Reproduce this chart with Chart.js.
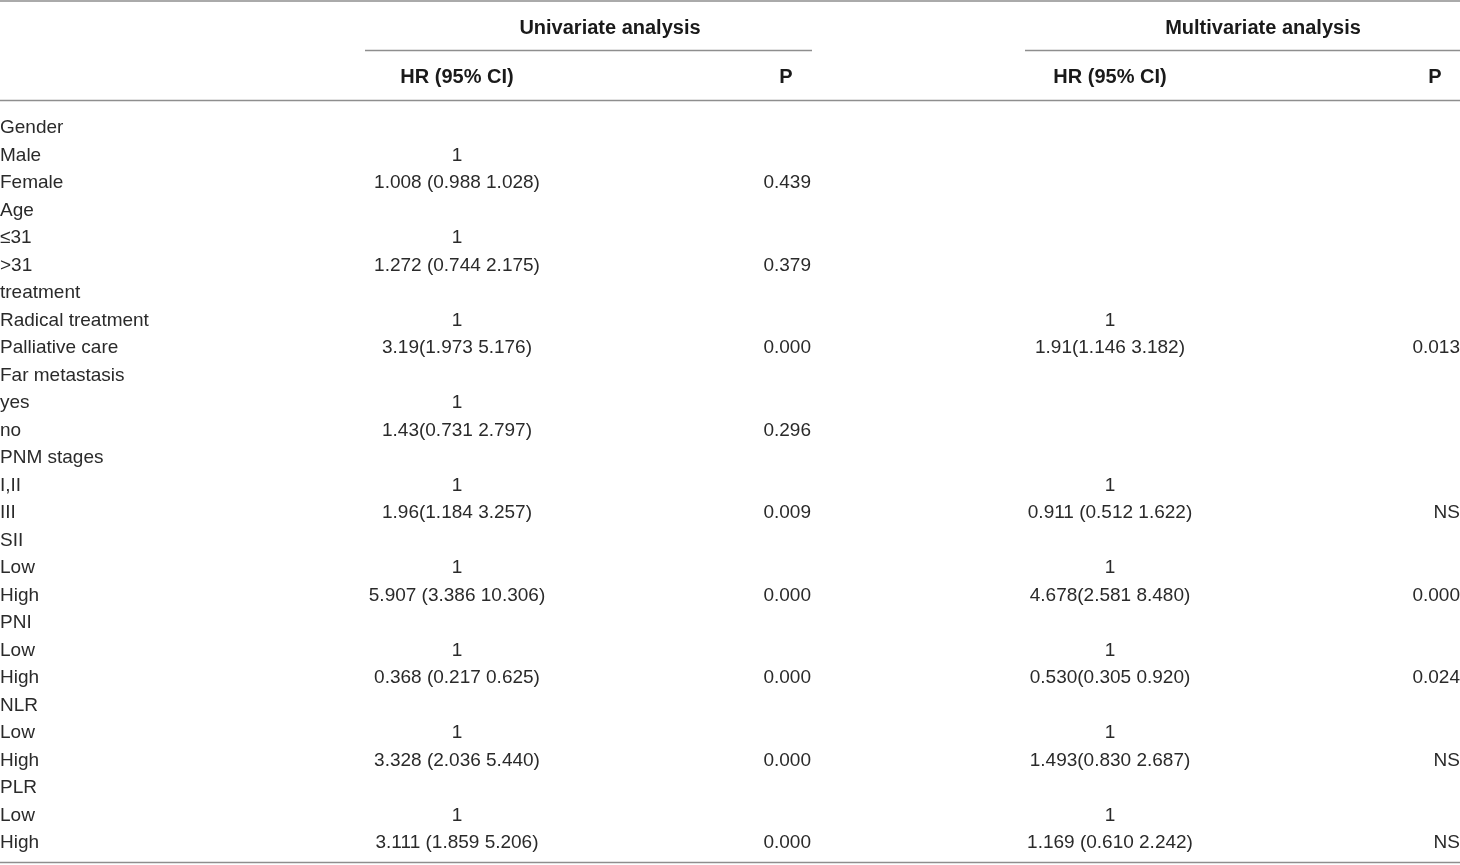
<!DOCTYPE html>
<html>
<head>
<meta charset="utf-8">
<script src="https://cdn.jsdelivr.net/npm/chart.js@4/dist/chart.umd.min.js"></script>
<style>
html, body { margin: 0; padding: 0; background: #ffffff; }
#wrap { width: 1460px; height: 865px; position: relative; }
</style>
</head>
<body>
<div id="wrap"><canvas id="tableChart"></canvas></div>
<script>
// =========================================
// Table data
// =========================================

const rowLabels = [
  "Gender", "Male", "Female",
  "Age", "\u226431", ">31",
  "treatment", "Radical treatment", "Palliative care",
  "Far metastasis", "yes", "no",
  "PNM stages", "I,II", "III",
  "SII", "Low", "High",
  "PNI", "Low", "High",
  "NLR", "Low", "High",
  "PLR", "Low", "High"
];

const uniHR = [
  "", "1", "1.008 (0.988 1.028)",
  "", "1", "1.272 (0.744 2.175)",
  "", "1", "3.19(1.973 5.176)",
  "", "1", "1.43(0.731 2.797)",
  "", "1", "1.96(1.184 3.257)",
  "", "1", "5.907 (3.386 10.306)",
  "", "1", "0.368 (0.217 0.625)",
  "", "1", "3.328 (2.036 5.440)",
  "", "1", "3.111 (1.859 5.206)"
];

const uniP = [
  "", "", "0.439",
  "", "", "0.379",
  "", "", "0.000",
  "", "", "0.296",
  "", "", "0.009",
  "", "", "0.000",
  "", "", "0.000",
  "", "", "0.000",
  "", "", "0.000"
];

const multiHR = [
  "", "", "",
  "", "", "",
  "", "1", "1.91(1.146 3.182)",
  "", "", "",
  "", "1", "0.911 (0.512 1.622)",
  "", "1", "4.678(2.581 8.480)",
  "", "1", "0.530(0.305 0.920)",
  "", "1", "1.493(0.830 2.687)",
  "", "1", "1.169 (0.610 2.242)"
];

const multiP = [
  "", "", "",
  "", "", "",
  "", "", "0.013",
  "", "", "",
  "", "", "NS",
  "", "", "0.000",
  "", "", "0.024",
  "", "", "NS",
  "", "", "NS"
];

const groupHeaders = ["Univariate analysis", "Multivariate analysis"];
const columnHeaders = ["HR (95% CI)", "P", "HR (95% CI)", "P"];

// =========================================
// Layout (pixels on the x scale)
// =========================================

const COL = { label: 0, uniHR: 457, uniP: 811, multiHR: 1110, multiP: 1460 };
const GROUP = [
  { center: 610, from: 365, to: 812 },
  { center: 1263, from: 1025, to: 1460 }
];

const BODY_FONT = "19px 'Liberation Sans', Arial, sans-serif";
const HEAD_FONT = "bold 20px 'Liberation Sans', Arial, sans-serif";
const TEXT_COLOR = "#2a2a2a";
const HEAD_COLOR = "#1a1a1a";
const RULE_COLOR = "#8e8e8e";

function column(texts, xPos, align){
  const data = [];
  const shown = [];
  texts.forEach((t, i) => {
    if (t !== "") {
      data.push({ x: xPos, y: i });
      shown.push(t);
    }
  });
  return {
    data: data,
    texts: shown,
    align: align,
    pointRadius: 0,
    pointHoverRadius: 0,
    showLine: false
  };
}

// =========================================
// Text + rules plugin
// =========================================

const tablePlugin = {
  id: "tablePlugin",
  afterDatasetsDraw(chart){
    const ctx = chart.ctx;
    const xs = chart.scales.x;
    ctx.save();

    // cells
    ctx.fillStyle = TEXT_COLOR;
    ctx.font = BODY_FONT;
    ctx.textBaseline = "middle";
    chart.data.datasets.forEach((ds, i) => {
      const meta = chart.getDatasetMeta(i);
      ctx.textAlign = ds.align;
      meta.data.forEach((pt, j) => {
        ctx.fillText(ds.texts[j], pt.x, pt.y);
      });
    });

    // headers
    ctx.fillStyle = HEAD_COLOR;
    ctx.font = HEAD_FONT;
    ctx.textAlign = "center";
    GROUP.forEach((g, i) => {
      ctx.fillText(groupHeaders[i], xs.getPixelForValue(g.center), 28);
    });
    ctx.fillText(columnHeaders[0], xs.getPixelForValue(COL.uniHR), 77);
    ctx.fillText(columnHeaders[1], xs.getPixelForValue(786), 77);
    ctx.fillText(columnHeaders[2], xs.getPixelForValue(COL.multiHR), 77);
    ctx.fillText(columnHeaders[3], xs.getPixelForValue(1435), 77);

    // rules
    ctx.strokeStyle = RULE_COLOR;
    ctx.lineWidth = 1.5;
    const hline = (x0, x1, y) => {
      ctx.beginPath();
      ctx.moveTo(xs.getPixelForValue(x0), y);
      ctx.lineTo(xs.getPixelForValue(x1), y);
      ctx.stroke();
    };
    hline(0, 1460, 1);
    GROUP.forEach(g => hline(g.from, g.to, 50.5));
    hline(0, 1460, 100.5);
    hline(0, 1460, 862.5);

    ctx.restore();
  }
};

// =========================================
// Chart
// =========================================

new Chart(document.getElementById("tableChart"), {
  type: "scatter",
  data: {
    datasets: [
      column(rowLabels, COL.label, "left"),
      column(uniHR, COL.uniHR, "center"),
      column(uniP, COL.uniP, "right"),
      column(multiHR, COL.multiHR, "center"),
      column(multiP, COL.multiP, "right")
    ]
  },
  options: {
    responsive: true,
    maintainAspectRatio: false,
    animation: false,
    devicePixelRatio: 1,
    layout: { padding: { left: 0, right: 0, top: 114, bottom: 8 } },
    plugins: {
      legend: { display: false },
      tooltip: { enabled: false }
    },
    scales: {
      x: { type: "linear", min: 0, max: 1460, display: false },
      y: {
        type: "linear",
        reverse: true,
        min: -0.5,
        max: rowLabels.length - 0.5,
        display: false
      }
    }
  },
  plugins: [tablePlugin]
});
</script>
</body>
</html>
